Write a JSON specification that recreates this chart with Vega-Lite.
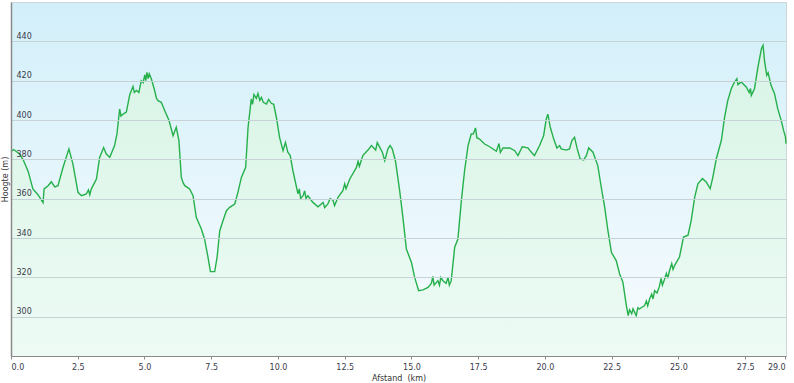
{
  "$schema": "https://vega.github.io/schema/vega-lite/v6.json",
  "width": 775,
  "height": 354,
  "autosize": {"type": "none"},
  "padding": {"left": 11, "top": 2, "right": 8, "bottom": 27},
  "background": "#ffffff",
  "view": {
    "stroke": "#cfd6d9",
    "strokeWidth": 1,
    "fill": {
      "x1": 0, "y1": 0, "x2": 0, "y2": 1,
      "gradient": "linear",
      "stops": [
        {"offset": 0, "color": "#d2eff9"},
        {"offset": 0.85, "color": "#f3fafe"},
        {"offset": 1, "color": "#f0fbf7"}
      ]
    }
  },
  "config": {
    "font": "DejaVu Sans",
    "axis": {"labelFont": "DejaVu Sans", "titleFont": "DejaVu Sans"}
  },
  "data": {
    "values": [
      {"km": 0.0, "h": 384}, {"km": 0.1, "h": 385}, {"km": 0.3, "h": 383}, {"km": 0.45, "h": 380},
      {"km": 0.64, "h": 374}, {"km": 0.82, "h": 365}, {"km": 1.01, "h": 362}, {"km": 1.2, "h": 358},
      {"km": 1.24, "h": 365}, {"km": 1.39, "h": 366.6}, {"km": 1.51, "h": 368.6}, {"km": 1.64, "h": 366},
      {"km": 1.76, "h": 366.6}, {"km": 1.95, "h": 376}, {"km": 2.17, "h": 385.3}, {"km": 2.32, "h": 377.6},
      {"km": 2.51, "h": 363.2}, {"km": 2.64, "h": 361.5}, {"km": 2.82, "h": 362.4}, {"km": 2.9, "h": 364.5}, {"km": 2.95, "h": 362}, {"km": 3.01, "h": 365},
      {"km": 3.2, "h": 370}, {"km": 3.32, "h": 381}, {"km": 3.47, "h": 386}, {"km": 3.57, "h": 382.7},
      {"km": 3.7, "h": 381}, {"km": 3.88, "h": 387}, {"km": 3.97, "h": 393}, {"km": 4.07, "h": 405.6},
      {"km": 4.12, "h": 402}, {"km": 4.2, "h": 403}, {"km": 4.32, "h": 404}, {"km": 4.45, "h": 413}, {"km": 4.57, "h": 417},
      {"km": 4.62, "h": 414}, {"km": 4.7, "h": 415}, {"km": 4.79, "h": 414}, {"km": 4.88, "h": 420}, {"km": 4.95, "h": 419}, {"km": 5.01, "h": 423},
      {"km": 5.05, "h": 420}, {"km": 5.09, "h": 424.2}, {"km": 5.14, "h": 421}, {"km": 5.18, "h": 423.5}, {"km": 5.26, "h": 420.8}, {"km": 5.38, "h": 415}, {"km": 5.45, "h": 411}, {"km": 5.51, "h": 409.8},
      {"km": 5.63, "h": 409}, {"km": 5.76, "h": 404.7}, {"km": 5.92, "h": 399.7}, {"km": 6.07, "h": 392},
      {"km": 6.19, "h": 396.3}, {"km": 6.29, "h": 389.5}, {"km": 6.38, "h": 370.8}, {"km": 6.45, "h": 368}, {"km": 6.51, "h": 366.6},
      {"km": 6.69, "h": 364.9}, {"km": 6.82, "h": 361.5}, {"km": 6.94, "h": 350.5}, {"km": 7.13, "h": 344.6},
      {"km": 7.25, "h": 339.5}, {"km": 7.38, "h": 330.2}, {"km": 7.47, "h": 322.9}, {"km": 7.63, "h": 322.9},
      {"km": 7.72, "h": 330.2}, {"km": 7.82, "h": 343.7}, {"km": 7.94, "h": 348.8}, {"km": 8.07, "h": 353.9},
      {"km": 8.19, "h": 355.6}, {"km": 8.38, "h": 357.3}, {"km": 8.5, "h": 363.2}, {"km": 8.63, "h": 370.8},
      {"km": 8.79, "h": 375.9}, {"km": 8.88, "h": 396.3}, {"km": 9.0, "h": 410.7}, {"km": 9.05, "h": 408}, {"km": 9.1, "h": 413}, {"km": 9.19, "h": 411},
      {"km": 9.25, "h": 413.5}, {"km": 9.32, "h": 410}, {"km": 9.38, "h": 411.5}, {"km": 9.45, "h": 409}, {"km": 9.57, "h": 408.1}, {"km": 9.65, "h": 410.5}, {"km": 9.75, "h": 408.5}, {"km": 9.84, "h": 408},
      {"km": 9.94, "h": 401.4}, {"km": 10.06, "h": 391.2}, {"km": 10.19, "h": 384.4}, {"km": 10.28, "h": 388.6},
      {"km": 10.37, "h": 383.6}, {"km": 10.46, "h": 381.9}, {"km": 10.56, "h": 374.2}, {"km": 10.75, "h": 362.4},
      {"km": 10.8, "h": 365}, {"km": 10.85, "h": 360}, {"km": 10.94, "h": 361.5}, {"km": 11.0, "h": 364}, {"km": 11.05, "h": 360}, {"km": 11.12, "h": 361.5}, {"km": 11.31, "h": 358.1}, {"km": 11.5, "h": 355.9},
      {"km": 11.69, "h": 358.1}, {"km": 11.75, "h": 355.5}, {"km": 11.87, "h": 357.3}, {"km": 11.95, "h": 360}, {"km": 12.06, "h": 359.3}, {"km": 12.12, "h": 356.5}, {"km": 12.25, "h": 360.7},
      {"km": 12.43, "h": 364.1}, {"km": 12.5, "h": 367.5}, {"km": 12.55, "h": 365}, {"km": 12.69, "h": 370}, {"km": 12.94, "h": 375.9}, {"km": 13.0, "h": 379}, {"km": 13.05, "h": 376.5}, {"km": 13.18, "h": 381.9},
      {"km": 13.37, "h": 384.7}, {"km": 13.5, "h": 387}, {"km": 13.66, "h": 384.7}, {"km": 13.72, "h": 388.5}, {"km": 13.78, "h": 387},
      {"km": 13.91, "h": 383.6}, {"km": 14.0, "h": 379.3}, {"km": 14.12, "h": 385.3}, {"km": 14.2, "h": 387}, {"km": 14.28, "h": 385.3},
      {"km": 14.4, "h": 379.3}, {"km": 14.56, "h": 364}, {"km": 14.68, "h": 350.5}, {"km": 14.81, "h": 334.4},
      {"km": 15.0, "h": 327.6}, {"km": 15.12, "h": 320}, {"km": 15.27, "h": 313.2}, {"km": 15.43, "h": 313.6},
      {"km": 15.62, "h": 314.9}, {"km": 15.75, "h": 317}, {"km": 15.8, "h": 320.5}, {"km": 15.85, "h": 316}, {"km": 15.99, "h": 318.3}, {"km": 16.05, "h": 316}, {"km": 16.1, "h": 320}, {"km": 16.18, "h": 318.3},
      {"km": 16.3, "h": 317}, {"km": 16.37, "h": 320}, {"km": 16.42, "h": 316}, {"km": 16.49, "h": 318.3}, {"km": 16.62, "h": 335.3}, {"km": 16.74, "h": 339.5},
      {"km": 16.87, "h": 359}, {"km": 16.99, "h": 374.2}, {"km": 17.12, "h": 387}, {"km": 17.24, "h": 392.9},
      {"km": 17.32, "h": 393}, {"km": 17.4, "h": 396}, {"km": 17.45, "h": 391}, {"km": 17.55, "h": 390.3}, {"km": 17.74, "h": 387.8}, {"km": 17.93, "h": 386.4},
      {"km": 18.18, "h": 384.1}, {"km": 18.28, "h": 388}, {"km": 18.33, "h": 383.5}, {"km": 18.43, "h": 385.8}, {"km": 18.68, "h": 385.8}, {"km": 18.87, "h": 384.4},
      {"km": 18.99, "h": 381.9}, {"km": 19.15, "h": 386.4}, {"km": 19.36, "h": 385.8}, {"km": 19.5, "h": 383.5},
      {"km": 19.61, "h": 381.9}, {"km": 19.8, "h": 387}, {"km": 19.95, "h": 392}, {"km": 20.05, "h": 400.5},
      {"km": 20.11, "h": 403}, {"km": 20.2, "h": 396.3}, {"km": 20.33, "h": 390.3}, {"km": 20.45, "h": 385.8},
      {"km": 20.55, "h": 387}, {"km": 20.61, "h": 385.3}, {"km": 20.8, "h": 384.7}, {"km": 20.92, "h": 385.3}, {"km": 21.01, "h": 389.5},
      {"km": 21.11, "h": 391.2}, {"km": 21.21, "h": 385.3}, {"km": 21.32, "h": 380.2}, {"km": 21.45, "h": 379.7},
      {"km": 21.55, "h": 381.9}, {"km": 21.64, "h": 385.8}, {"km": 21.8, "h": 383.6}, {"km": 21.98, "h": 376.8},
      {"km": 22.11, "h": 365.8}, {"km": 22.24, "h": 355.6}, {"km": 22.36, "h": 343.7}, {"km": 22.49, "h": 332.7},
      {"km": 22.67, "h": 328.5}, {"km": 22.8, "h": 321.7}, {"km": 22.92, "h": 317.5}, {"km": 23.05, "h": 305.6},
      {"km": 23.12, "h": 300.5}, {"km": 23.17, "h": 303.5}, {"km": 23.25, "h": 301.5}, {"km": 23.3, "h": 304}, {"km": 23.36, "h": 302.2}, {"km": 23.42, "h": 300.5}, {"km": 23.48, "h": 304.5}, {"km": 23.54, "h": 303.9}, {"km": 23.73, "h": 305.6},
      {"km": 23.8, "h": 308}, {"km": 23.85, "h": 305.5}, {"km": 23.92, "h": 309}, {"km": 24.0, "h": 311.5}, {"km": 24.05, "h": 309}, {"km": 24.11, "h": 313.2}, {"km": 24.2, "h": 312}, {"km": 24.29, "h": 315.5}, {"km": 24.35, "h": 319.5}, {"km": 24.4, "h": 316}, {"km": 24.48, "h": 319},
      {"km": 24.55, "h": 322}, {"km": 24.6, "h": 319.5}, {"km": 24.67, "h": 323.6}, {"km": 24.75, "h": 327}, {"km": 24.8, "h": 324}, {"km": 24.86, "h": 326.1}, {"km": 25.04, "h": 330.3}, {"km": 25.19, "h": 340.5},
      {"km": 25.36, "h": 341.4}, {"km": 25.48, "h": 349}, {"km": 25.61, "h": 360.8}, {"km": 25.73, "h": 367.6},
      {"km": 25.9, "h": 370.2}, {"km": 26.04, "h": 368.5}, {"km": 26.19, "h": 365.1}, {"km": 26.29, "h": 371},
      {"km": 26.42, "h": 380.3}, {"km": 26.61, "h": 389.7}, {"km": 26.73, "h": 401.5}, {"km": 26.85, "h": 410},
      {"km": 26.98, "h": 415.9}, {"km": 27.1, "h": 419.3}, {"km": 27.19, "h": 421}, {"km": 27.23, "h": 418}, {"km": 27.35, "h": 419.3},
      {"km": 27.54, "h": 416.8}, {"km": 27.65, "h": 414}, {"km": 27.7, "h": 416}, {"km": 27.73, "h": 412.5}, {"km": 27.85, "h": 415.9}, {"km": 27.98, "h": 427},
      {"km": 28.11, "h": 436.3}, {"km": 28.17, "h": 438}, {"km": 28.23, "h": 429.5}, {"km": 28.31, "h": 422.7},
      {"km": 28.36, "h": 424}, {"km": 28.47, "h": 417.6}, {"km": 28.6, "h": 413.4}, {"km": 28.72, "h": 405.8}, {"km": 28.85, "h": 399.8},
      {"km": 28.94, "h": 394.7}, {"km": 29.01, "h": 391.4}, {"km": 29.03, "h": 388}
    ]
  },
  "encoding": {
    "x": {
      "field": "km", "type": "quantitative",
      "scale": {"domain": [0, 29.03], "nice": false, "zero": false},
      "axis": {
        "title": "Afstand\u00a0\u00a0(km)",
        "values": [0, 2.5, 5, 7.5, 10, 12.5, 15, 17.5, 20, 22.5, 25, 27.5, 29],
        "format": ".1f",
        "grid": false,
        "zindex": 1,
        "domainColor": "#8a8a8a",
        "tickColor": "#8a8a8a",
        "tickSize": 3,
        "labelFontSize": 8,
        "labelColor": "#3a3a4a",
        "labelPadding": 4,
        "labelFlush": true,
        "titleFontSize": 8,
        "titleFontWeight": "normal",
        "titleColor": "#333333",
        "titlePadding": 3
      }
    },
    "y": {
      "field": "h", "type": "quantitative",
      "scale": {"domain": [280, 460], "nice": false, "zero": false},
      "axis": {
        "title": "Hoogte (m)",
        "values": [300, 320, 340, 360, 380, 400, 420, 440],
        "grid": true,
        "zindex": 1,
        "gridColor": "#c6d2d6",
        "gridWidth": 1.2,
        "ticks": false,
        "domainColor": "#8a8a8a",
        "domainWidth": 1.5,
        "labelAlign": "left",
        "labelBaseline": "bottom",
        "labelPadding": -5,
        "labelOffset": -1,
        "labelFontSize": 8,
        "labelColor": "#3a3a4a",
        "labelFlush": false,
        "titleFontSize": 8,
        "titleFontWeight": "normal",
        "titleColor": "#333333",
        "titlePadding": 2
      }
    }
  },
  "layer": [
    {
      "mark": {
        "type": "area",
        "color": {
          "x1": 0, "y1": 0, "x2": 0, "y2": 1,
          "gradient": "linear",
          "stops": [
            {"offset": 0, "color": "#d8f4e6"},
            {"offset": 1, "color": "#edfbf4"}
          ]
        }
      },
      "encoding": {"y2": {"datum": 280}}
    },
    {
      "mark": {"type": "line", "color": "#25b04b", "strokeWidth": 1.4}
    }
  ]
}
